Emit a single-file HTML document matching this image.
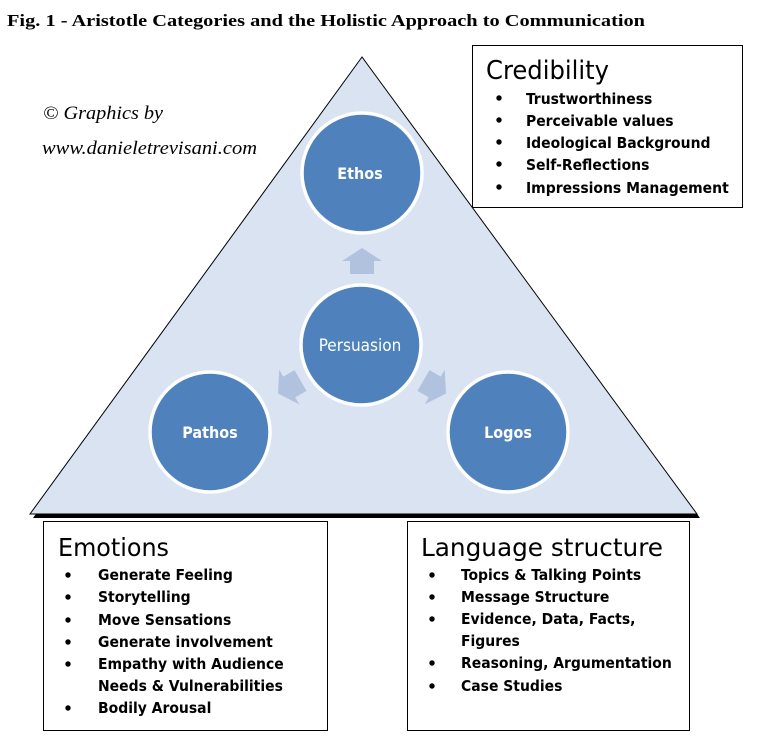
<!DOCTYPE html>
<html><head><meta charset="utf-8"><style>
html,body{margin:0;padding:0;background:#fff;}
svg{display:block;}
.c{font-family:"DejaVu Sans Condensed","Liberation Sans",sans-serif;}
</style></head><body>
<svg width="757" height="740" viewBox="0 0 757 740" xmlns="http://www.w3.org/2000/svg">
<text x="7" y="26" font-family="Liberation Serif,serif" font-weight="bold" font-size="16.5" textLength="638" lengthAdjust="spacingAndGlyphs">Fig. 1 - Aristotle Categories and the Holistic Approach to Communication</text>
<polygon points="362,59 33,518 700,518" fill="#000"/>
<polygon points="362,57 30,514 697,514" fill="#dae3f1" stroke="#000" stroke-width="1"/>
<g fill="#b0c2de">
<polygon points="362,248 382,261 374,261 374,274 350,274 350,261 342,261"/>
<polygon points="362,248 382,261 374,261 374,274 350,274 350,261 342,261" transform="rotate(-120 362 345)"/>
<polygon points="362,248 382,261 374,261 374,274 350,274 350,261 342,261" transform="rotate(120 362 345)"/>
</g>
<g fill="#4f81bd" stroke="#fff" stroke-width="3.5">
<circle cx="362" cy="173" r="60"/>
<circle cx="361" cy="345" r="60"/>
<circle cx="210" cy="432" r="60"/>
<circle cx="508" cy="432" r="60"/>
</g>
<g class="c" fill="#fff" font-size="16" text-anchor="middle">
<text x="360" y="179" font-weight="bold">Ethos</text>
<text x="360" y="351" font-size="17">Persuasion</text>
<text x="210" y="438" font-weight="bold">Pathos</text>
<text x="508" y="438" font-weight="bold">Logos</text>
</g>
<g font-family="Liberation Serif,serif" font-style="italic" font-size="19">
<text x="43" y="119" textLength="120" lengthAdjust="spacingAndGlyphs">© Graphics by</text>
<text x="42" y="154" textLength="215" lengthAdjust="spacingAndGlyphs">www.danieletrevisani.com</text>
</g>
<g fill="#fff" stroke="#000" stroke-width="1">
<rect x="472.5" y="45.5" width="270" height="162"/>
<rect x="43.5" y="521.5" width="284" height="209"/>
<rect x="407.5" y="521.5" width="282" height="209"/>
</g>
<g class="c" fill="#000">
<text x="486" y="79" font-size="26" textLength="123" lengthAdjust="spacingAndGlyphs">Credibility</text>
<text x="58" y="556" font-size="25" textLength="111" lengthAdjust="spacingAndGlyphs">Emotions</text>
<text x="421" y="556" font-size="25" textLength="242" lengthAdjust="spacingAndGlyphs">Language structure</text>
<g font-size="15.5" font-weight="bold">
<text x="526" y="104">Trustworthiness</text>
<text x="526" y="126">Perceivable values</text>
<text x="526" y="148">Ideological Background</text>
<text x="526" y="170">Self-Reflections</text>
<text x="526" y="193">Impressions Management</text>
<text x="98" y="580">Generate Feeling</text>
<text x="98" y="602">Storytelling</text>
<text x="98" y="625">Move Sensations</text>
<text x="98" y="647">Generate involvement</text>
<text x="98" y="669">Empathy with Audience</text>
<text x="98" y="691">Needs &amp; Vulnerabilities</text>
<text x="98" y="713">Bodily Arousal</text>
<text x="461" y="580">Topics &amp; Talking Points</text>
<text x="461" y="602">Message Structure</text>
<text x="461" y="624">Evidence, Data, Facts,</text>
<text x="461" y="646">Figures</text>
<text x="461" y="668">Reasoning, Argumentation</text>
<text x="461" y="691">Case Studies</text>
</g>
<g>
<circle cx="499" cy="98" r="2.7"/><circle cx="499" cy="120" r="2.7"/><circle cx="499" cy="142" r="2.7"/><circle cx="499" cy="164" r="2.7"/><circle cx="499" cy="187" r="2.7"/>
<circle cx="68" cy="575" r="2.7"/><circle cx="68" cy="597" r="2.7"/><circle cx="68" cy="620" r="2.7"/><circle cx="68" cy="642" r="2.7"/><circle cx="68" cy="664" r="2.7"/><circle cx="68" cy="708" r="2.7"/>
<circle cx="432" cy="575" r="2.7"/><circle cx="432" cy="597" r="2.7"/><circle cx="432" cy="619" r="2.7"/><circle cx="432" cy="663" r="2.7"/><circle cx="432" cy="686" r="2.7"/>
</g>
</g>
</svg>
</body></html>
